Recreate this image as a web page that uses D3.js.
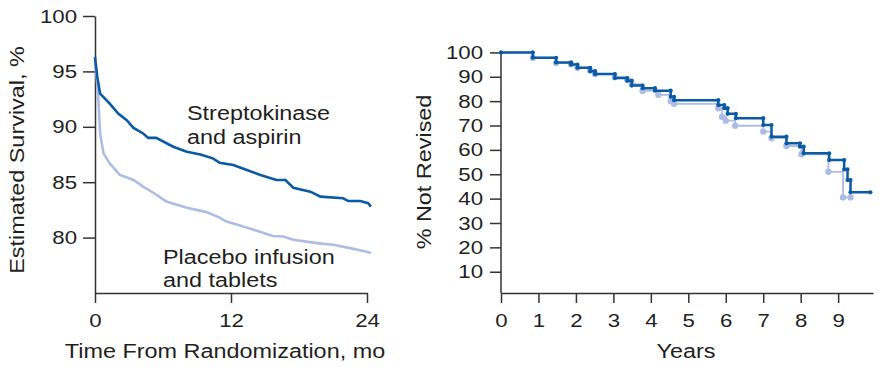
<!DOCTYPE html>
<html lang="en">
  <head>
    <meta charset="UTF-8" />
    <title>Survival charts</title>
    <style>
      body { margin: 0; background: #fff; }
      svg { display: block; }
      text { font-family: "Liberation Sans", Arial, sans-serif; fill: #231f20; }
      .axis path, .axis line { stroke: #333; stroke-width: 1.5; }
    </style>
  </head>
  <body>
    <svg width="879" height="367"></svg>
    <script src="https://cdnjs.cloudflare.com/ajax/libs/d3/7.8.5/d3.min.js"></script>
    <script>
      // left panel: estimated survival by month
      var skMonths = [0, 0.2, 0.45, 1.3, 2.05, 2.8, 3.4, 4.25, 4.7, 5.4, 6.9, 8.1, 9.3, 10.4, 11.0, 12.2, 13.4, 14.6, 16.0, 16.8, 17.5, 19.0, 19.9, 21.9, 22.35, 23.4, 24.1, 24.35];
      var skSurvival = [96.3, 94.5, 93.0, 92.1, 91.2, 90.6, 89.9, 89.4, 89.0, 89.0, 88.2, 87.75, 87.5, 87.15, 86.75, 86.55, 86.1, 85.65, 85.2, 85.2, 84.5, 84.15, 83.7, 83.55, 83.3, 83.3, 83.1, 82.8];
      var plMonths = [0, 0.15, 0.3, 0.45, 0.75, 1.3, 2.2, 3.4, 4.25, 5.15, 6.3, 8.1, 9.85, 11.0, 11.6, 12.8, 14.0, 15.7, 16.6, 17.5, 19.6, 21.0, 22.5, 23.7, 24.35];
      var plSurvival = [95.8, 94.5, 92.4, 89.4, 87.6, 86.7, 85.65, 85.2, 84.6, 84.05, 83.25, 82.7, 82.3, 81.8, 81.45, 81.1, 80.7, 80.15, 80.1, 79.8, 79.5, 79.35, 79.05, 78.8, 78.6];
      var leftYTicks = [80, 85, 90, 95, 100];
      var leftXTicks = [0, 12, 24];

      // right panel: % not revised by year (step curves)
      var darkYears = [0, 0.85, 1.47, 1.87, 2.04, 2.38, 2.51, 3.04, 3.37, 3.49, 3.78, 4.11, 4.53, 4.62, 5.80, 5.96, 6.05, 6.27, 7.0, 7.22, 7.62, 7.98, 8.08, 8.76, 9.16, 9.25, 9.33];
      var darkPct = [100, 97.8, 95.9, 95.0, 93.7, 92.3, 91.1, 89.5, 88.4, 86.4, 85.3, 84.3, 81.8, 80.4, 78.4, 77.1, 74.8, 73.0, 70.2, 65.4, 62.7, 61.3, 58.6, 55.8, 52.0, 47.6, 42.6];
      var darkEnd = 9.86;
      var lightYears = [0, 0.85, 1.47, 1.87, 2.04, 2.38, 2.51, 3.04, 3.37, 3.49, 3.78, 4.2, 4.53, 4.62, 5.80, 5.90, 6.00, 6.25, 7.0, 7.22, 7.62, 8.02, 8.74, 9.13];
      var lightPct = [100, 97.8, 95.6, 95.1, 93.7, 92.6, 91.1, 89.8, 88.7, 87.0, 84.2, 82.6, 80.0, 78.9, 77.1, 73.6, 72.0, 69.9, 67.5, 64.8, 61.6, 58.2, 51.0, 40.5];
      var lightEnd = 9.33;
      var rightYTicks = [10, 20, 30, 40, 50, 60, 70, 80, 90, 100];
      var rightXTicks = [0, 1, 2, 3, 4, 5, 6, 7, 8, 9];

      var darkBlue = "#0b5aa6",
        lightBlue = "#adbce3";

      var svg = d3.select("svg");

      // the source glyphs are a bit wider than Liberation Sans
      function widen(sel) {
        sel.each(function () {
          var w = this.getComputedTextLength();
          this.setAttribute("textLength", w * 1.17);
          this.setAttribute("lengthAdjust", "spacingAndGlyphs");
        });
      }

      // ---------- left panel ----------
      var x1 = d3.scaleLinear().domain([0, 24]).range([95, 367]);
      var y1 = d3.scaleLinear().domain([75, 100]).range([293, 16]);

      var gy1 = svg.append("g").attr("class", "axis").attr("transform", "translate(95,0)")
        .call(d3.axisLeft(y1).tickValues(leftYTicks).tickSize(12).tickSizeOuter(0).tickPadding(6));
      var gx1 = svg.append("g").attr("class", "axis").attr("transform", "translate(0,293)")
        .call(d3.axisBottom(x1).tickValues(leftXTicks).tickSize(10).tickSizeOuter(0).tickPadding(11));

      var line1 = d3.line().x(function (d) { return x1(d[0]); }).y(function (d) { return y1(d[1]); });

      svg.append("path")
        .datum(d3.zip(plMonths, plSurvival))
        .attr("d", line1)
        .attr("fill", "none")
        .attr("stroke", lightBlue)
        .attr("stroke-width", 2.6);

      svg.append("path")
        .datum(d3.zip(skMonths, skSurvival))
        .attr("d", line1)
        .attr("fill", "none")
        .attr("stroke", darkBlue)
        .attr("stroke-width", 2.6);

      svg.append("text").attr("x", 187).attr("y", 120).attr("font-size", 20).text("Streptokinase");
      svg.append("text").attr("x", 187).attr("y", 144).attr("font-size", 20).text("and aspirin");
      svg.append("text").attr("x", 163).attr("y", 264).attr("font-size", 20).text("Placebo infusion");
      svg.append("text").attr("x", 163).attr("y", 287).attr("font-size", 20).text("and tablets");

      svg.append("text").attr("x", 225).attr("y", 358).attr("text-anchor", "middle")
        .attr("font-size", 20).text("Time From Randomization, mo");
      svg.append("text").attr("transform", "translate(24,160) rotate(-90)")
        .attr("text-anchor", "middle").attr("font-size", 20).text("Estimated Survival, %");

      // ---------- right panel ----------
      var x2 = d3.scaleLinear().domain([0, 9.93]).range([501, 873]);
      var y2 = d3.scaleLinear().domain([0, 100]).range([296.1, 52.4]);

      var gy2 = svg.append("g").attr("class", "axis").attr("transform", "translate(501,0)")
        .call(d3.axisLeft(y2).tickValues(rightYTicks).tickSize(11).tickSizeOuter(0).tickPadding(7));
      gy2.select(".domain").attr("d", "M0,51V293");
      var gx2 = svg.append("g").attr("class", "axis").attr("transform", "translate(0,293)")
        .call(d3.axisBottom(x2).tickValues(rightXTicks).tickSize(10).tickSizeOuter(0).tickPadding(11));

      function stepPoints(years, pct, end) {
        var pts = [];
        years.forEach(function (t, i) {
          if (i > 0) pts.push([t, pct[i - 1]]);
          pts.push([t, pct[i]]);
        });
        pts.push([end, pct[pct.length - 1]]);
        return pts;
      }

      var line2 = d3.line().x(function (d) { return x2(d[0]); }).y(function (d) { return y2(d[1]); });

      svg.append("path")
        .datum(stepPoints(lightYears, lightPct, lightEnd))
        .attr("d", line2)
        .attr("fill", "none")
        .attr("stroke", lightBlue)
        .attr("stroke-width", 1.8);

      var lightMarks = lightYears.slice(1).map(function (t, i) { return [t, lightPct[i + 1]]; });
      lightMarks.push([lightEnd, lightPct[lightPct.length - 1]]);
      svg.append("g").selectAll("circle")
        .data(lightMarks)
        .enter()
        .append("circle")
        .attr("cx", function (d) { return x2(d[0]); })
        .attr("cy", function (d) { return y2(d[1]); })
        .attr("r", 3.2)
        .attr("fill", lightBlue);

      svg.append("path")
        .datum(stepPoints(darkYears, darkPct, darkEnd))
        .attr("d", line2)
        .attr("fill", "none")
        .attr("stroke", darkBlue)
        .attr("stroke-width", 2.5);

      svg.append("g").selectAll("circle")
        .data(stepPoints(darkYears, darkPct, darkEnd))
        .enter()
        .append("circle")
        .attr("cx", function (d) { return x2(d[0]); })
        .attr("cy", function (d) { return y2(d[1]); })
        .attr("r", 2.1)
        .attr("fill", darkBlue);

      svg.append("text").attr("x", 686).attr("y", 358).attr("text-anchor", "middle")
        .attr("font-size", 20).text("Years");
      svg.append("text").attr("transform", "translate(431,172) rotate(-90)")
        .attr("text-anchor", "middle").attr("font-size", 20).text("% Not Revised");

      // tick label styling
      svg.selectAll(".axis text").attr("font-size", 19).attr("fill", "#231f20")
        .style("font-family", '"Liberation Sans", Arial, sans-serif');
      svg.selectAll(".axis .tick line").attr("stroke", "#333");

      widen(svg.selectAll("text"));
    </script>
  </body>
</html>
